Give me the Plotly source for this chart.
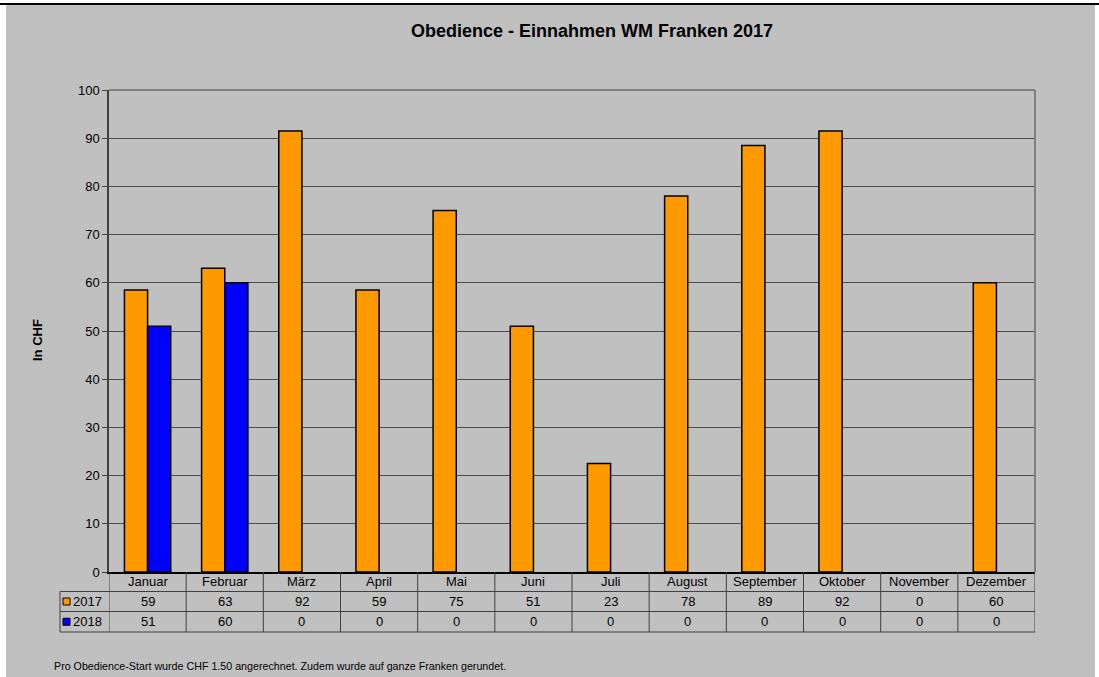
import plotly.graph_objects as go

months = ["Januar", "Februar", "März", "April", "Mai", "Juni", "Juli",
          "August", "September", "Oktober", "November", "Dezember"]
values_2017 = [58.5, 63, 91.5, 58.5, 75, 51, 22.5, 78, 88.5, 91.5, 0, 60]
values_2018 = [51, 60, 0, 0, 0, 0, 0, 0, 0, 0, 0, 0]
table_2017 = ["59", "63", "92", "59", "75", "51", "23", "78", "89", "92", "0", "60"]
table_2018 = ["51", "60", "0", "0", "0", "0", "0", "0", "0", "0", "0", "0"]
series_names = ["2017", "2018"]
y_ticks = [0, 10, 20, 30, 40, 50, 60, 70, 80, 90, 100]

W, H = 1099, 677
L, R, T, B = 109, 1035, 90, 572
ORANGE = "#FF9900"
BLUE = "#0000FF"
BG = "#C0C0C0"
LINE = "#404040"
FONT = "Liberation Sans, Arial, sans-serif"


def xp(px):
    return (px - L) / (R - L)


def yp(py):
    return (B - py) / (B - T)


def outline_widths(vals):
    return [1.5 if v > 0 else 0 for v in vals]


fig = go.Figure()
fig.add_trace(go.Bar(x=months, y=values_2017, name=series_names[0],
                     marker=dict(color=ORANGE, line=dict(color="black", width=outline_widths(values_2017)))))
fig.add_trace(go.Bar(x=months, y=values_2018, name=series_names[1],
                     marker=dict(color=BLUE, line=dict(color="black", width=outline_widths(values_2018)))))

shapes = []
# gray chart background and white frame
shapes.append(dict(type="rect", xref="paper", yref="paper", x0=xp(6), x1=xp(1095),
                   y0=yp(677), y1=yp(5), fillcolor=BG, line=dict(width=0), layer="below"))
shapes.append(dict(type="line", xref="paper", yref="paper", x0=xp(0), x1=xp(1099),
                   y0=yp(4), y1=yp(4), line=dict(color="black", width=2)))
# plot border top/right
shapes.append(dict(type="line", xref="paper", yref="paper", x0=0, x1=1, y0=1, y1=1,
                   line=dict(color="#808080", width=2)))
shapes.append(dict(type="line", xref="paper", yref="paper", x0=1, x1=1, y0=0, y1=1,
                   line=dict(color="#808080", width=2)))

# data table lines
row_y = [572, 591.5, 611.5, 632]
for i in range(len(months) + 1):
    shapes.append(dict(type="line", xref="x", yref="paper", x0=i - 0.5, x1=i - 0.5,
                       y0=yp(572), y1=yp(632), line=dict(color=LINE, width=1)))
for ry in row_y[1:]:
    shapes.append(dict(type="line", xref="paper", yref="paper", x0=xp(60), x1=1,
                       y0=yp(ry), y1=yp(ry), line=dict(color=LINE, width=1)))
shapes.append(dict(type="line", xref="paper", yref="paper", x0=xp(60), x1=xp(60),
                   y0=yp(591.5), y1=yp(632), line=dict(color=LINE, width=1)))
# legend keys
for k, col in enumerate([ORANGE, BLUE]):
    cy = (row_y[k + 1] + row_y[k + 2]) / 2
    shapes.append(dict(type="rect", xref="paper", yref="paper", x0=xp(63), x1=xp(70),
                       y0=yp(cy + 3.5), y1=yp(cy - 3.5), fillcolor=col,
                       line=dict(color="black", width=1)))

annotations = []
for i, m in enumerate(months):
    annotations.append(dict(x=i, xref="x", y=yp((row_y[0] + row_y[1]) / 2), yref="paper",
                            text=m, showarrow=False, font=dict(size=13, color="black", family=FONT),
                            xanchor="center", yanchor="middle"))
    annotations.append(dict(x=i, xref="x", y=yp((row_y[1] + row_y[2]) / 2), yref="paper",
                            text=table_2017[i], showarrow=False, font=dict(size=13, color="black", family=FONT),
                            xanchor="center", yanchor="middle"))
    annotations.append(dict(x=i, xref="x", y=yp((row_y[2] + row_y[3]) / 2), yref="paper",
                            text=table_2018[i], showarrow=False, font=dict(size=13, color="black", family=FONT),
                            xanchor="center", yanchor="middle"))
for k, nm in enumerate(series_names):
    annotations.append(dict(x=xp(71), xref="paper", y=yp((row_y[k + 1] + row_y[k + 2]) / 2), yref="paper",
                            text=nm, showarrow=False, font=dict(size=13, color="black", family=FONT),
                            xanchor="left", yanchor="middle"))

annotations.append(dict(x=xp(592), xref="paper", y=yp(31), yref="paper",
                        text="<b>Obedience - Einnahmen WM Franken 2017</b>", showarrow=False,
                        font=dict(size=18, color="black", family=FONT),
                        xanchor="center", yanchor="middle"))
annotations.append(dict(x=xp(37), xref="paper", y=yp(340), yref="paper",
                        text="<b>In CHF</b>", showarrow=False, textangle=-90,
                        font=dict(size=13, color="black", family=FONT),
                        xanchor="center", yanchor="middle"))
annotations.append(dict(x=xp(52), xref="paper", y=yp(666), yref="paper",
                        text="Pro Obedience-Start wurde CHF 1.50 angerechnet. Zudem wurde auf ganze Franken gerundet.",
                        showarrow=False, font=dict(size=10.7, color="black", family=FONT),
                        xanchor="left", yanchor="middle"))

fig.update_layout(
    width=W, height=H,
    margin=dict(l=L, r=W - R, t=T, b=H - B, pad=0),
    paper_bgcolor="white", plot_bgcolor=BG,
    barmode="group", bargap=0.4, bargroupgap=0,
    showlegend=False,
    shapes=shapes, annotations=annotations,
    font=dict(family=FONT, color="black", size=13),
)
fig.update_xaxes(showticklabels=False, ticks="", showgrid=False, showline=True,
                 linecolor="black", linewidth=1.5, range=[-0.5, 11.5], fixedrange=True)
fig.update_yaxes(range=[0, 100], tickvals=y_ticks, ticks="outside", ticklen=5,
                 tickcolor=LINE, showline=True, linecolor=LINE, linewidth=1.5,
                 gridcolor="#4d4d4d", gridwidth=1, zeroline=False,
                 tickfont=dict(size=13, color="black", family=FONT), fixedrange=True)

fig.write_html("out.html", config={"displayModeBar": False},
               post_script="document.body.style.margin='0';document.body.style.overflow='hidden';")
